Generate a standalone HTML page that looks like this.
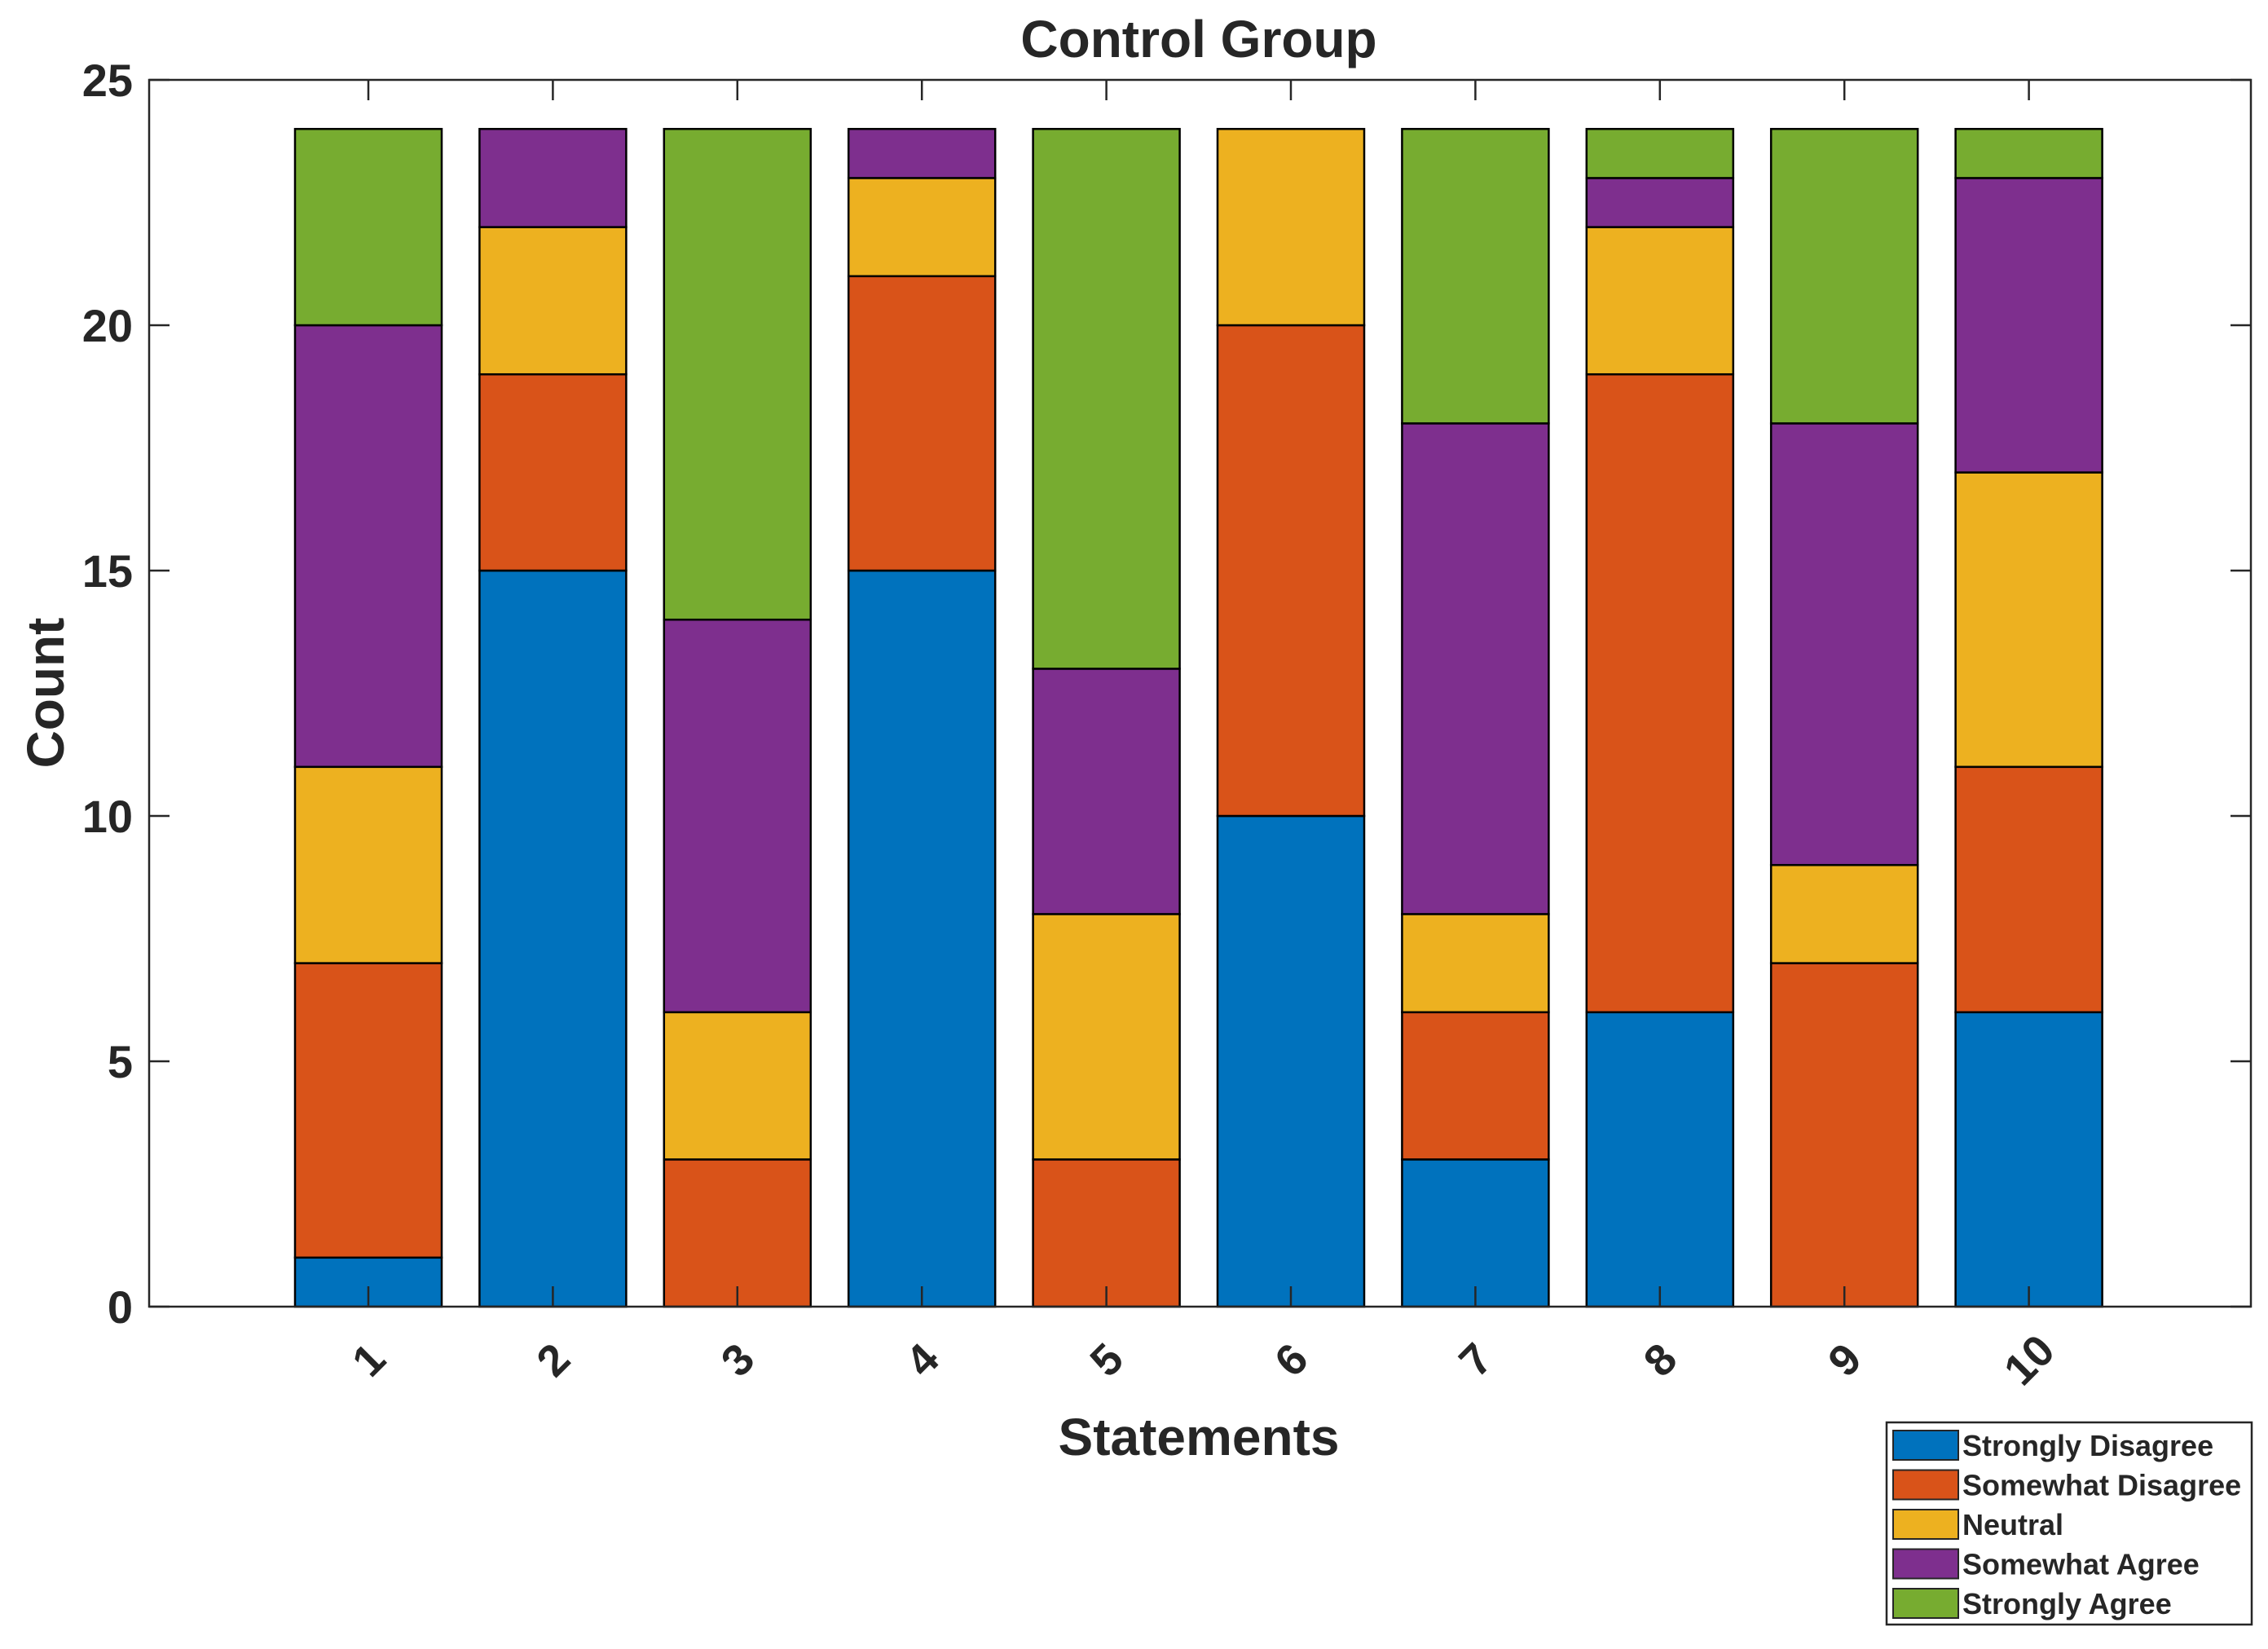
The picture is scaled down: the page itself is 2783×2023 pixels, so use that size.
<!DOCTYPE html>
<html><head><meta charset="utf-8"><style>
html,body{margin:0;padding:0;background:#fff;}
svg text{font-family:"Liberation Sans",Arial,sans-serif;font-weight:bold;fill:#262626;}
</style></head><body>
<svg id="chart" width="2783" height="2018" viewBox="0 0 2783 2018" xmlns="http://www.w3.org/2000/svg">
<g id="layer"></g>
</svg>
<script>
const categories = ["1","2","3","4","5","6","7","8","9","10"];
const seriesNames = ["Strongly Disagree","Somewhat Disagree","Neutral","Somewhat Agree","Strongly Agree"];
const stronglyDisagree = [1,15,0,15,0,10,3,6,0,6];
const somewhatDisagree = [6,4,3,6,3,10,3,13,7,5];
const neutral = [4,3,3,2,5,4,2,3,2,6];
const somewhatAgree = [9,2,8,1,5,0,10,1,9,6];
const stronglyAgree = [4,0,10,0,11,0,6,1,6,1];
const yTicks = [0,5,10,15,20,25];
const colors = ["#0072BD","#D95319","#EDB120","#7E2F8E","#77AC30"];
const series = [stronglyDisagree,somewhatDisagree,neutral,somewhatAgree,stronglyAgree];

const L=183,R=2762,T=98,B=1603,yMax=25;
const x0=452,step=226.4,barW=180;
function xPos(i){return x0+i*step;}
function yPos(v){return B-(v/yMax)*(B-T);}
const NS="http://www.w3.org/2000/svg";
const g=document.getElementById('layer');
function mk(tag,attrs,parent){const e=document.createElementNS(NS,tag);for(const k in attrs)e.setAttribute(k,attrs[k]);(parent||g).appendChild(e);return e;}

const bg=mk('rect',{x:L,y:T,width:R-L,height:B-T,fill:'#fff'});



categories.forEach((c,i)=>{
  let cum=0;
  series.forEach((s,k)=>{
    const v=s[i];
    if(v>0){
      const r=mk('rect',{x:xPos(i)-barW/2,y:yPos(cum+v),width:barW,height:yPos(cum)-yPos(cum+v),fill:colors[k],stroke:'#000','stroke-width':2.5});
      
      
    }
    cum+=v;
  });
});

const fr=mk('rect',{x:L,y:T,width:R-L,height:B-T,fill:'none',stroke:'#262626','stroke-width':2.5});



yTicks.forEach(t=>{
  const y=yPos(t);
  mk('line',{x1:L,y1:y,x2:L+25,y2:y,stroke:'#262626','stroke-width':2.5});
  mk('line',{x1:R,y1:y,x2:R-25,y2:y,stroke:'#262626','stroke-width':2.5});
  const tx=mk('text',{x:163,y:y+20,'text-anchor':'end','font-size':56});
  tx.textContent=t;
  
  
});
categories.forEach((c,i)=>{
  const x=xPos(i);
  mk('line',{x1:x,y1:B,x2:x,y2:B-25,stroke:'#262626','stroke-width':2.5});
  mk('line',{x1:x,y1:T,x2:x,y2:T+25,stroke:'#262626','stroke-width':2.5});
  const tx=mk('text',{x:0,y:0,'text-anchor':'middle','font-size':54,transform:`translate(${x},${1668}) rotate(-45) translate(0,19)`});
  tx.textContent=c;
  
  
});

const title=mk('text',{x:1471,y:70,'text-anchor':'middle','font-size':64});
title.textContent='Control Group';


const xl=mk('text',{x:1471,y:1785,'text-anchor':'middle','font-size':64});
xl.textContent='Statements';


const yl=mk('text',{x:0,y:0,'text-anchor':'middle','font-size':64,transform:'translate(78,850) rotate(-90)'});
yl.textContent='Count';



const lg=mk('g',{});


const lb=mk('rect',{x:2315,y:1745,width:448,height:248,fill:'#fff',stroke:'#262626','stroke-width':2.5},lg);
seriesNames.forEach((n,k)=>{
  const cy=1773+k*48.5;
  const sw=mk('rect',{x:2323,y:cy-18,width:80,height:36,fill:colors[k],stroke:'#262626','stroke-width':2},lg);
  
  
  const t=mk('text',{x:2408,y:cy+13,'font-size':36},lg);
  t.textContent=n;
  
  
});
</script>
</body></html>
